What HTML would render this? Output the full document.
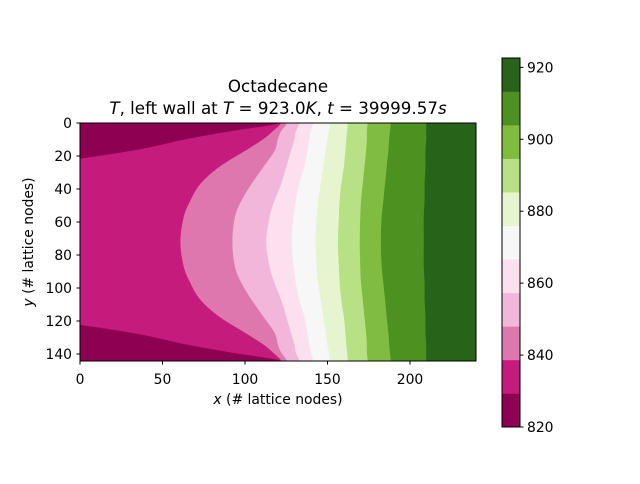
<!DOCTYPE html>
<html><head><meta charset="utf-8"><style>
body{margin:0;background:#fff;font-family:"DejaVu Sans","Liberation Sans",sans-serif}
svg text{font-family:"DejaVu Sans","Liberation Sans",sans-serif;fill:#000}
</style></head><body>
<svg id="c" width="640" height="480" viewBox="0 0 640 480" xmlns="http://www.w3.org/2000/svg">
<defs><clipPath id="pc"><rect x="80" y="123" width="396" height="238"/></clipPath></defs>
<text x="278" y="92" font-size="16.7" text-anchor="middle">Octadecane</text>
<text x="278" y="114" font-size="16.7" text-anchor="middle"><tspan font-style="italic">T</tspan>, left wall at <tspan font-style="italic">T</tspan> = 923.0<tspan font-style="italic">K</tspan>, <tspan font-style="italic">t</tspan> = 39999.57<tspan font-style="italic">s</tspan></text>
<g id="plot" clip-path="url(#pc)"></g>
<rect x="80" y="123" width="396" height="238" fill="none" stroke="#000" stroke-width="1"/>
<g id="axes"></g>
<text x="278" y="404" font-size="13.9" text-anchor="middle"><tspan font-style="italic">x</tspan> (# lattice nodes)</text>
<text transform="translate(33,242) rotate(-90)" font-size="13.9" text-anchor="middle"><tspan font-style="italic">y</tspan> (# lattice nodes)</text>
<g id="cbar"></g>
</svg>
<script>
const colors=["#8e0152","#c51b7d","#de77ae","#f1b6da","#fde0ef","#f7f7f7","#e6f5d0","#b8e186","#7fbc41","#4d9221","#276419"];
const levelMin=820, levelMax=922.6;
const ySamples=[0,5,10,17,27,37,47,57,72];
const b1=[122,92,64,31,-35,-100,-150,-180,-190];
const b2=[122,117,111,100,84,73,67,63,61];
const b3=[125.5,122,120,118,111,104,98,94,92.5];
const b4=[133,131,130,128,125,122,118,115,113];
const b5=[141.5,140,139,138,136,133,131,129.5,128.5];
const b6=[151.5,151,150,149,147.5,146,144.5,143.5,143];
const b7=[162.5,162,161.5,161,160,158.5,157.5,157,156.5];
const b8=[174.5,174,174,173.5,172.5,171.5,170.5,170,169.7];
const b9=[188.5,188,187.5,187,186,185,184,183,182.5];
const b10=[210,210,210,209.5,209.5,209,209,208.5,208.5];
const boundaries=[b1,b2,b3,b4,b5,b6,b7,b8,b9,b10];
const xTicks=[0,50,100,150,200];
const yTicks=[0,20,40,60,80,100,120,140];
const cTicks=[820,840,860,880,900,920];
const NS="http://www.w3.org/2000/svg";
const X=v=>80+v*1.65, Y=v=>123+v*1.65;
const CY=v=>58+(levelMax-v)/(levelMax-levelMin)*369;
function mk(t,a,p){const e=document.createElementNS(NS,t);for(const k in a)e.setAttribute(k,a[k]);p.appendChild(e);return e;}
function smooth(pts){
  let d='M'+pts[0][0].toFixed(1)+','+pts[0][1].toFixed(1);
  for(let i=0;i<pts.length-1;i++){
    const p0=pts[Math.max(0,i-1)],p1=pts[i],p2=pts[i+1],p3=pts[Math.min(pts.length-1,i+2)];
    const c1=[p1[0]+(p2[0]-p0[0])/6,p1[1]+(p2[1]-p0[1])/6];
    const c2=[p2[0]-(p3[0]-p1[0])/6,p2[1]-(p3[1]-p1[1])/6];
    d+=' C'+c1.map(v=>v.toFixed(1)).join(',')+' '+c2.map(v=>v.toFixed(1)).join(',')+' '+p2.map(v=>v.toFixed(1)).join(',');
  }
  return d;
}
const plot=document.getElementById('plot');
const bg=mk('rect',{x:80,y:123,width:396,height:238,fill:colors[0]},plot);


boundaries.forEach((b,k)=>{
  const pts=[];
  ySamples.forEach((y,i)=>pts.push([X(b[i]),Y(y)]));
  for(let i=ySamples.length-2;i>=0;i--)pts.push([X(b[i]),Y(144-ySamples[i])]);
  pts.unshift([X(b[0]),Y(-5)]);pts.push([X(b[0]),Y(149)]);
  let d=smooth(pts)+' L'+X(250)+','+Y(149)+' L'+X(250)+','+Y(-5)+'Z';
  const p=mk('path',{d:d,fill:colors[k+1],stroke:colors[k+1],'stroke-width':0.5},plot);
  
  
});
const ax=document.getElementById('axes');
xTicks.forEach(v=>{
  mk('line',{x1:X(v),x2:X(v),y1:361,y2:364.5,stroke:'#000'},ax);
  const t=mk('text',{x:X(v),y:384,'font-size':13.9,'text-anchor':'middle'},ax);t.textContent=v;
  
  
});
yTicks.forEach(v=>{
  mk('line',{x1:76.5,x2:80,y1:Y(v),y2:Y(v),stroke:'#000'},ax);
  const t=mk('text',{x:72,y:Y(v)+5,'font-size':13.9,'text-anchor':'end'},ax);t.textContent=v;
  
  
});
const cb=document.getElementById('cbar');
const step=(levelMax-levelMin)/colors.length;
colors.forEach((c,i)=>{
  const lo=levelMin+i*step, hi=lo+step;
  const r=mk('rect',{x:502,y:CY(hi),width:18,height:CY(lo)-CY(hi)+0.3,fill:c},cb);
  
  
});
mk('rect',{x:502,y:58,width:18,height:369,fill:'none',stroke:'#000','stroke-width':1},cb);
cTicks.forEach(v=>{
  mk('line',{x1:520,x2:523.5,y1:CY(v),y2:CY(v),stroke:'#000'},cb);
  const t=mk('text',{x:527,y:CY(v)+5,'font-size':13.9},cb);t.textContent=v;
  
  
});
</script>
</body></html>
